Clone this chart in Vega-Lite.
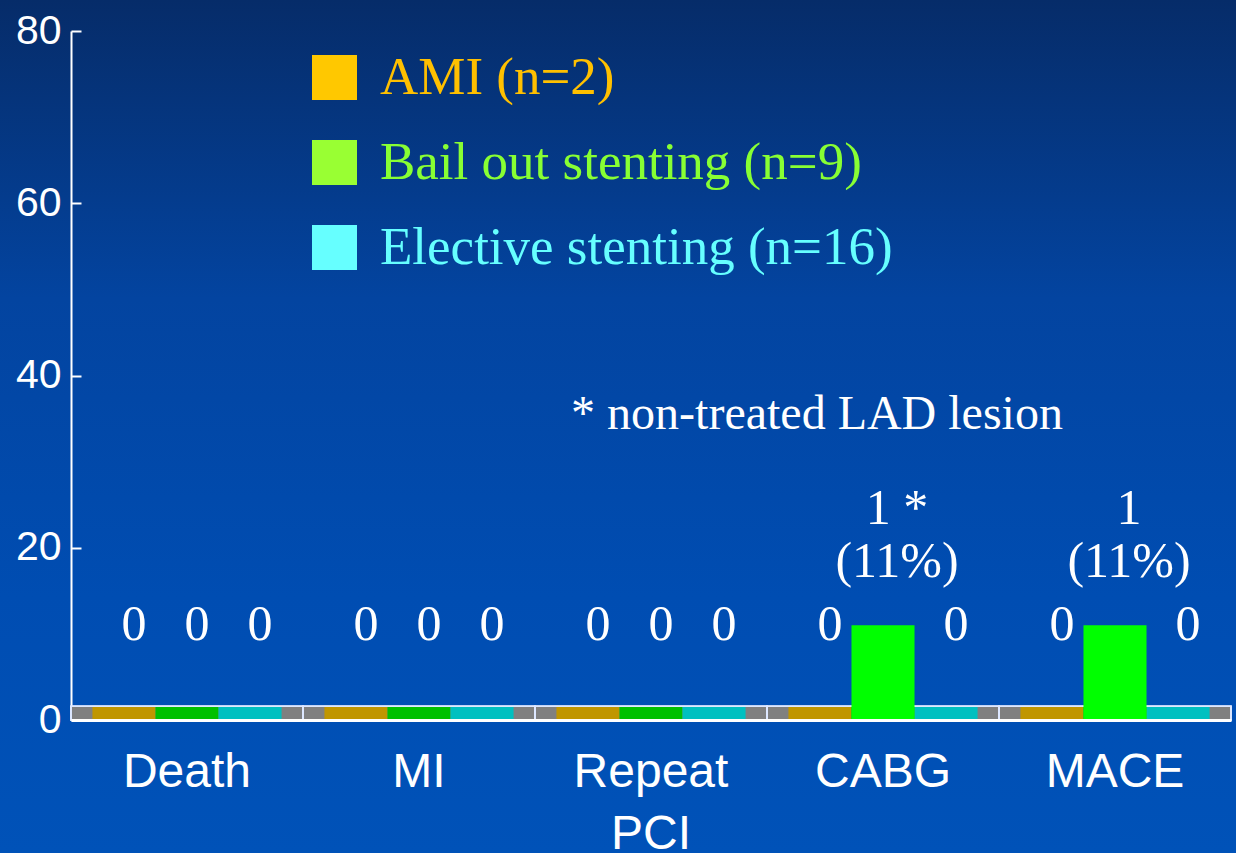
{
  "$schema": "https://vega.github.io/schema/vega-lite/v6.json",
  "width": 1236,
  "height": 853,
  "padding": 0,
  "autosize": {"type": "none"},
  "background": "#0446A6",
  "view": {
    "stroke": null,
    "fill": {
      "gradient": "linear", "x1": 0, "y1": 0, "x2": 0, "y2": 1,
      "stops": [
        {"offset": 0, "color": "#062C69"},
        {"offset": 0.35, "color": "#0344A0"},
        {"offset": 0.7, "color": "#004DB2"},
        {"offset": 1, "color": "#0052B8"}
      ]
    }
  },
  "config": {"view": {"stroke": null}, "axis": {"grid": false}},
  "data": {
    "values": [
      {"category": "Death", "series": "AMI (n=2)", "value": 0, "label": "0"},
      {"category": "Death", "series": "Bail out stenting (n=9)", "value": 0, "label": "0"},
      {"category": "Death", "series": "Elective stenting (n=16)", "value": 0, "label": "0"},
      {"category": "MI", "series": "AMI (n=2)", "value": 0, "label": "0"},
      {"category": "MI", "series": "Bail out stenting (n=9)", "value": 0, "label": "0"},
      {"category": "MI", "series": "Elective stenting (n=16)", "value": 0, "label": "0"},
      {"category": "Repeat PCI", "series": "AMI (n=2)", "value": 0, "label": "0"},
      {"category": "Repeat PCI", "series": "Bail out stenting (n=9)", "value": 0, "label": "0"},
      {"category": "Repeat PCI", "series": "Elective stenting (n=16)", "value": 0, "label": "0"},
      {"category": "CABG", "series": "AMI (n=2)", "value": 0, "label": "0"},
      {"category": "CABG", "series": "Bail out stenting (n=9)", "value": 11, "label": "1 *\n(11%)"},
      {"category": "CABG", "series": "Elective stenting (n=16)", "value": 0, "label": "0"},
      {"category": "MACE", "series": "AMI (n=2)", "value": 0, "label": "0"},
      {"category": "MACE", "series": "Bail out stenting (n=9)", "value": 11, "label": "1\n(11%)"},
      {"category": "MACE", "series": "Elective stenting (n=16)", "value": 0, "label": "0"}
    ]
  },
  "layer": [
    {
      "mark": {"type": "rect", "fill": "#808080"},
      "encoding": {
        "x": {
          "field": "category", "type": "nominal",
          "sort": ["Death", "MI", "Repeat PCI", "CABG", "MACE"],
          "scale": {"range": [71, 1231], "paddingInner": 0, "paddingOuter": 0},
          "axis": {
            "title": null, "offset": -133,
            "domainColor": "white", "domainWidth": 3, "ticks": false,
            "labelColor": "white", "labelFont": "Liberation Sans", "labelFontSize": 48,
            "labelPadding": 28, "labelLineHeight": 62, "labelAngle": 0, "labelOverlap": false, "labelLimit": 400,
            "labelExpr": "datum.label == 'Repeat PCI' ? ['Repeat', 'PCI'] : datum.label"
          }
        },
        "y": {
          "datum": 0, "type": "quantitative",
          "scale": {"domain": [0, 80], "range": [720, 31], "nice": false},
          "axis": {
            "title": null, "values": [0, 20, 40, 60, 80], "offset": -71,
            "domainColor": "white", "domainWidth": 2,
            "tickColor": "white", "tickWidth": 2, "tickSize": -10,
            "labelColor": "white", "labelFont": "Liberation Sans", "labelFontSize": 41, "labelPadding": 20
          }
        },
        "y2": {"datum": 1.6}
      }
    },
    {
      "mark": {"type": "rect"},
      "encoding": {
        "x": {"field": "category", "type": "nominal", "sort": ["Death", "MI", "Repeat PCI", "CABG", "MACE"]},
        "xOffset": {"field": "series", "type": "nominal", "sort": ["AMI (n=2)", "Bail out stenting (n=9)", "Elective stenting (n=16)"], "scale": {"paddingInner": 0, "paddingOuter": 0.34}},
        "y": {"datum": 0, "type": "quantitative"},
        "y2": {"datum": 1.6},
        "fill": {
          "condition": [
            {"test": "datum.series === 'AMI (n=2)'", "value": "#C09600"},
            {"test": "datum.series === 'Bail out stenting (n=9)'", "value": "#00C000"}
          ],
          "value": "#00C0C0"
        }
      }
    },
    {
      "mark": {"type": "rect", "fillOpacity": 0, "stroke": "#DDE8FF", "strokeWidth": 1.5},
      "encoding": {
        "x": {"field": "category", "type": "nominal", "sort": ["Death", "MI", "Repeat PCI", "CABG", "MACE"]},
        "y": {"datum": 0, "type": "quantitative"},
        "y2": {"datum": 1.6}
      }
    },
    {
      "transform": [{"filter": "datum.value > 0"}],
      "mark": {"type": "bar"},
      "encoding": {
        "x": {"field": "category", "type": "nominal", "sort": ["Death", "MI", "Repeat PCI", "CABG", "MACE"]},
        "xOffset": {"field": "series", "type": "nominal", "sort": ["AMI (n=2)", "Bail out stenting (n=9)", "Elective stenting (n=16)"]},
        "y": {"field": "value", "type": "quantitative"},
        "fill": {
          "condition": [
            {"test": "datum.series === 'AMI (n=2)'", "value": "#FFC800"},
            {"test": "datum.series === 'Bail out stenting (n=9)'", "value": "#00FF00"}
          ],
          "value": "#00FFFF"
        }
      }
    },
    {
      "transform": [{"filter": "datum.value == 0"}],
      "mark": {"type": "text", "align": "center", "baseline": "alphabetic", "dy": -80, "dx": 10, "font": "Liberation Serif", "fontSize": 50, "fill": "white"},
      "encoding": {
        "x": {"field": "category", "type": "nominal", "sort": ["Death", "MI", "Repeat PCI", "CABG", "MACE"]},
        "xOffset": {"field": "series", "type": "nominal", "sort": ["AMI (n=2)", "Bail out stenting (n=9)", "Elective stenting (n=16)"]},
        "y": {"field": "value", "type": "quantitative"},
        "text": {"field": "label"}
      }
    },
    {
      "transform": [{"filter": "datum.value > 0"}],
      "mark": {"type": "text", "align": "center", "baseline": "bottom", "lineBreak": "\n", "lineHeight": 53, "dy": -91, "dx": 14, "font": "Liberation Serif", "fontSize": 50, "fill": "white"},
      "encoding": {
        "x": {"field": "category", "type": "nominal", "sort": ["Death", "MI", "Repeat PCI", "CABG", "MACE"]},
        "xOffset": {"field": "series", "type": "nominal", "sort": ["AMI (n=2)", "Bail out stenting (n=9)", "Elective stenting (n=16)"]},
        "y": {"field": "value", "type": "quantitative"},
        "text": {"field": "label"}
      }
    },
    {
      "data": {"values": [{"note": "* non-treated LAD lesion"}]},
      "mark": {"type": "text", "align": "center", "baseline": "middle", "dx": -66, "font": "Liberation Serif", "fontSize": 48, "fill": "white"},
      "encoding": {
        "x": {"datum": "CABG", "type": "nominal"},
        "y": {"datum": 35.4, "type": "quantitative"},
        "text": {"field": "note"}
      }
    },
    {
      "mark": {"type": "point", "filled": true, "opacity": 0},
      "encoding": {
        "x": {"field": "category", "type": "nominal", "sort": ["Death", "MI", "Repeat PCI", "CABG", "MACE"]},
        "xOffset": {"field": "series", "type": "nominal", "sort": ["AMI (n=2)", "Bail out stenting (n=9)", "Elective stenting (n=16)"]},
        "y": {"field": "value", "type": "quantitative"},
        "color": {
          "field": "series", "type": "nominal",
          "scale": {"domain": ["AMI (n=2)", "Bail out stenting (n=9)", "Elective stenting (n=16)"], "range": ["#FFC800", "#99FF33", "#66FFFF"]},
          "legend": {
            "title": null, "orient": "none", "legendX": 308, "legendY": 51,
            "padding": 0, "symbolType": "square", "symbolSize": 2025, "symbolOpacity": 1, "symbolStrokeWidth": 0,
            "labelFont": "Liberation Serif", "labelFontSize": 53, "labelLimit": 800, "labelOffset": 19, "rowPadding": 31,
            "encode": {"labels": {"update": {"fill": {"signal": "datum.value === 'AMI (n=2)' ? '#FFC000' : datum.value === 'Bail out stenting (n=9)' ? '#88FF33' : '#66FFFF'"}}}}
          }
        }
      }
    }
  ]
}
